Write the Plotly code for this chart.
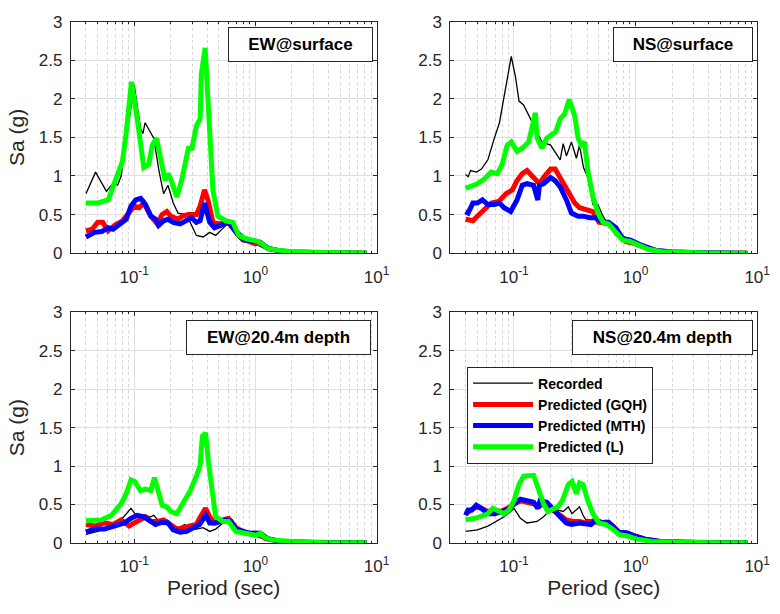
import plotly.graph_objects as go

# ---------------- EW @ surface ----------------
ew_s_rec_T = [0.04, 0.048, 0.059, 0.068, 0.073, 0.078, 0.1, 0.113, 0.118, 0.123, 0.145, 0.16, 0.175,
              0.19, 0.21, 0.23, 0.27, 0.306, 0.326, 0.37, 0.42, 0.47, 0.57, 0.63, 0.69, 0.78, 1.0,
              1.2, 1.5, 2.0, 3.0, 5.0, 8.3]
ew_s_rec_Sa = [0.77, 1.05, 0.8, 0.92, 0.88, 1.0, 2.18, 1.61, 1.55, 1.69, 1.49, 1.07, 0.77,
               0.88, 0.65, 0.52, 0.5, 0.31, 0.23, 0.21, 0.27, 0.23, 0.36, 0.4, 0.23, 0.15, 0.12,
               0.06, 0.03, 0.015, 0.008, 0.003, 0.001]

ew_s_gqh_T = [0.04, 0.045, 0.05, 0.055, 0.061, 0.069, 0.08, 0.091, 0.1, 0.11, 0.12, 0.137, 0.155,
              0.17, 0.186, 0.2, 0.23, 0.25, 0.28, 0.326, 0.35, 0.38, 0.406, 0.446, 0.5, 0.6, 0.69,
              0.83, 1.0, 1.1, 1.28, 1.6, 2.0, 3.0, 5.0, 8.3]
ew_s_gqh_Sa = [0.29, 0.31, 0.4, 0.4, 0.29, 0.36, 0.42, 0.52, 0.61, 0.59, 0.65, 0.48, 0.38,
               0.5, 0.54, 0.48, 0.44, 0.48, 0.5, 0.5, 0.61, 0.82, 0.69, 0.4, 0.38, 0.4, 0.27,
               0.17, 0.12, 0.14, 0.06, 0.03, 0.015, 0.008, 0.003, 0.001]

ew_s_mth_T = [0.04, 0.047, 0.054, 0.061, 0.067, 0.076, 0.086, 0.094, 0.103, 0.113, 0.124, 0.137,
              0.15, 0.159, 0.175, 0.19, 0.21, 0.239, 0.27, 0.297, 0.326, 0.35, 0.38, 0.42, 0.46,
              0.54, 0.6, 0.69, 0.83, 1.06, 1.28, 1.6, 2.0, 3.0, 5.0, 8.3]
ew_s_mth_Sa = [0.21, 0.27, 0.28, 0.33, 0.31, 0.38, 0.44, 0.61, 0.69, 0.71, 0.63, 0.48,
               0.44, 0.36, 0.42, 0.44, 0.4, 0.38, 0.42, 0.46, 0.4, 0.42, 0.65, 0.4, 0.33,
               0.38, 0.4, 0.28, 0.17, 0.15, 0.06, 0.03, 0.015, 0.008, 0.003, 0.001]

ew_s_l_T = [0.04, 0.05, 0.061, 0.069, 0.08, 0.086, 0.095, 0.106, 0.12, 0.132, 0.141, 0.153, 0.166,
            0.18, 0.19, 0.2, 0.225, 0.246, 0.28, 0.3, 0.326, 0.35, 0.358, 0.385, 0.42, 0.446,
            0.49, 0.57, 0.65, 0.73, 0.83, 0.94, 1.06, 1.13, 1.28, 1.5, 2.1, 3.9, 8.3]
ew_s_l_Sa = [0.65, 0.65, 0.69, 0.9, 1.19, 1.57, 2.22, 1.74, 1.11, 1.15, 1.4, 1.49, 1.19,
             0.94, 1.03, 0.96, 0.73, 0.94, 1.36, 1.36, 1.65, 1.74, 2.32, 2.66, 1.57, 0.82,
             0.48, 0.42, 0.4, 0.23, 0.19, 0.17, 0.15, 0.12, 0.06, 0.04, 0.02, 0.01, 0.002]

# ---------------- NS @ surface ----------------
ns_s_rec_T = [0.04, 0.042, 0.044, 0.049, 0.054, 0.061, 0.069, 0.076, 0.083, 0.095, 0.103, 0.11,
              0.12, 0.137, 0.155, 0.17, 0.2, 0.24, 0.254, 0.27, 0.297, 0.326, 0.346, 0.373,
              0.405, 0.446, 0.49, 0.54, 0.6, 0.69, 0.83, 1.0, 1.3, 1.7, 2.5, 4.0, 8.3]
ns_s_rec_Sa = [1.02, 0.99, 1.07, 1.05, 1.09, 1.21, 1.49, 1.69, 2.03, 2.55, 2.28, 1.97,
               1.92, 1.74, 1.57, 1.44, 1.4, 1.21, 1.42, 1.26, 1.44, 1.23, 1.4, 1.11,
               0.98, 0.63, 0.63, 0.48, 0.36, 0.23, 0.17, 0.12, 0.05, 0.02, 0.01, 0.004, 0.001]

ns_s_gqh_T = [0.04, 0.046, 0.05, 0.057, 0.065, 0.075, 0.086, 0.097, 0.106, 0.117, 0.128, 0.145,
              0.162, 0.175, 0.2, 0.218, 0.24, 0.26, 0.288, 0.316, 0.346, 0.39, 0.446, 0.5,
              0.6, 0.69, 0.83, 1.0, 1.3, 1.7, 2.5, 4.0, 8.3]
ns_s_gqh_Sa = [0.44, 0.42, 0.48, 0.56, 0.65, 0.67, 0.77, 0.82, 0.94, 1.03, 1.07, 0.98,
               0.9, 0.98, 1.09, 1.09, 0.98, 0.9, 0.77, 0.65, 0.59, 0.56, 0.54, 0.4,
               0.38, 0.3, 0.15, 0.12, 0.05, 0.02, 0.01, 0.004, 0.001]

ns_s_mth_T = [0.04, 0.042, 0.046, 0.05, 0.055, 0.061, 0.069, 0.076, 0.083, 0.094, 0.106, 0.117,
              0.128, 0.145, 0.157, 0.162, 0.175, 0.2, 0.218, 0.24, 0.27, 0.297, 0.337, 0.37,
              0.42, 0.47, 0.54, 0.6, 0.69, 0.78, 0.91, 1.13, 1.45, 2.0, 3.0, 5.0, 8.3]
ns_s_mth_Sa = [0.54, 0.52, 0.65, 0.65, 0.69, 0.63, 0.63, 0.65, 0.59, 0.54, 0.69, 0.88,
               0.9, 0.88, 0.69, 0.88, 0.9, 0.98, 0.94, 0.86, 0.69, 0.52, 0.48, 0.48,
               0.46, 0.46, 0.4, 0.4, 0.33, 0.19, 0.17, 0.1, 0.04, 0.015, 0.008, 0.003, 0.001]

ns_s_l_T = [0.04, 0.05, 0.057, 0.065, 0.073, 0.08, 0.088, 0.095, 0.106, 0.117, 0.132, 0.145,
            0.15, 0.155, 0.17, 0.186, 0.2, 0.22, 0.24, 0.26, 0.285, 0.316, 0.337, 0.357, 0.38,
            0.405, 0.446, 0.49, 0.54, 0.6, 0.69, 0.78, 0.91, 1.06, 1.28, 1.65, 2.5, 4.0, 8.3]
ns_s_l_Sa = [0.84, 0.9, 0.96, 1.05, 1.03, 1.15, 1.4, 1.44, 1.32, 1.36, 1.44, 1.78,
             1.82, 1.49, 1.36, 1.49, 1.53, 1.57, 1.74, 1.8, 1.99, 1.78, 1.49, 1.4, 1.44,
             1.07, 0.73, 0.52, 0.4, 0.38, 0.27, 0.17, 0.15, 0.1, 0.05, 0.02, 0.01, 0.004, 0.001]

# ---------------- EW @ 20.4 m depth ----------------
ew_d_rec_T = [0.04, 0.05, 0.065, 0.078, 0.094, 0.106, 0.12, 0.137, 0.145, 0.164, 0.186, 0.21,
              0.239, 0.26, 0.29, 0.326, 0.37, 0.42, 0.47, 0.54, 0.6, 0.69, 0.83, 1.0, 1.2,
              1.6, 2.5, 4.0, 8.3]
ew_d_rec_Sa = [0.11, 0.15, 0.22, 0.3, 0.45, 0.34, 0.36, 0.34, 0.36, 0.26, 0.3, 0.2,
               0.2, 0.24, 0.18, 0.18, 0.2, 0.15, 0.18, 0.26, 0.3, 0.15, 0.11, 0.09, 0.05,
               0.02, 0.01, 0.004, 0.001]

ew_d_gqh_T = [0.04, 0.047, 0.057, 0.067, 0.078, 0.091, 0.1, 0.11, 0.124, 0.137, 0.155, 0.175,
              0.198, 0.225, 0.254, 0.29, 0.326, 0.358, 0.388, 0.42, 0.46, 0.54, 0.6, 0.69,
              0.83, 1.06, 1.2, 1.6, 2.5, 4.0, 8.3]
ew_d_gqh_Sa = [0.24, 0.22, 0.26, 0.24, 0.3, 0.22, 0.26, 0.3, 0.34, 0.28, 0.28, 0.3,
               0.24, 0.18, 0.2, 0.22, 0.24, 0.36, 0.45, 0.34, 0.26, 0.3, 0.32, 0.2,
               0.13, 0.125, 0.06, 0.02, 0.01, 0.004, 0.001]

ew_d_mth_T = [0.04, 0.047, 0.057, 0.069, 0.083, 0.094, 0.106, 0.12, 0.137, 0.15, 0.17, 0.19,
              0.21, 0.239, 0.27, 0.306, 0.346, 0.388, 0.42, 0.47, 0.57, 0.63, 0.69, 0.88,
              1.1, 1.25, 1.6, 2.5, 4.0, 8.3]
ew_d_mth_Sa = [0.14, 0.18, 0.18, 0.22, 0.26, 0.32, 0.36, 0.34, 0.28, 0.24, 0.27, 0.26,
               0.17, 0.14, 0.15, 0.2, 0.24, 0.36, 0.26, 0.26, 0.3, 0.28, 0.18, 0.13,
               0.125, 0.06, 0.02, 0.01, 0.004, 0.001]

ew_d_l_T = [0.04, 0.054, 0.065, 0.078, 0.086, 0.094, 0.101, 0.113, 0.124, 0.137, 0.147, 0.159,
            0.17, 0.186, 0.2, 0.225, 0.25, 0.29, 0.326, 0.35, 0.365, 0.388, 0.41, 0.44, 0.47,
            0.54, 0.6, 0.69, 0.83, 1.0, 1.1, 1.2, 1.37, 1.75, 2.5, 4.0, 8.3]
ew_d_l_Sa = [0.29, 0.3, 0.36, 0.51, 0.64, 0.82, 0.8, 0.68, 0.7, 0.68, 0.85, 0.64,
             0.49, 0.47, 0.41, 0.38, 0.51, 0.68, 0.87, 1.01, 1.39, 1.43, 1.05, 0.68, 0.34,
             0.28, 0.28, 0.15, 0.13, 0.1, 0.125, 0.07, 0.04, 0.025, 0.01, 0.004, 0.001]

# ---------------- NS @ 20.4 m depth ----------------
ns_d_rec_T = [0.04, 0.05, 0.061, 0.071, 0.083, 0.094, 0.1, 0.113, 0.128, 0.155, 0.175, 0.2,
              0.225, 0.254, 0.28, 0.3, 0.326, 0.346, 0.37, 0.39, 0.43, 0.47, 0.57, 0.65,
              0.73, 1.0, 1.3, 1.7, 2.5, 4.0, 8.3]
ns_d_rec_Sa = [0.15, 0.17, 0.22, 0.28, 0.34, 0.41, 0.45, 0.32, 0.26, 0.28, 0.34, 0.43,
               0.43, 0.41, 0.47, 0.38, 0.43, 0.47, 0.36, 0.3, 0.3, 0.32, 0.22, 0.18,
               0.11, 0.06, 0.02, 0.01, 0.006, 0.003, 0.001]

ns_d_gqh_T = [0.04, 0.045, 0.049, 0.054, 0.061, 0.069, 0.078, 0.088, 0.1, 0.113, 0.128, 0.145,
              0.159, 0.175, 0.19, 0.21, 0.24, 0.27, 0.306, 0.346, 0.39, 0.446, 0.5, 0.57,
              0.65, 0.73, 0.85, 1.0, 1.2, 1.6, 2.5, 4.0, 8.3]
ns_d_gqh_Sa = [0.38, 0.43, 0.47, 0.45, 0.41, 0.43, 0.41, 0.45, 0.51, 0.55, 0.53, 0.51,
               0.47, 0.51, 0.47, 0.43, 0.36, 0.3, 0.28, 0.28, 0.26, 0.28, 0.26, 0.27,
               0.22, 0.14, 0.13, 0.09, 0.05, 0.02, 0.01, 0.004, 0.001]

ns_d_mth_T = [0.04, 0.042, 0.045, 0.049, 0.054, 0.061, 0.069, 0.078, 0.088, 0.1, 0.113, 0.128,
              0.145, 0.157, 0.164, 0.186, 0.21, 0.24, 0.27, 0.297, 0.346, 0.39, 0.43, 0.47,
              0.54, 0.6, 0.65, 0.73, 0.85, 0.97, 1.2, 1.6, 2.5, 4.0, 8.3]
ns_d_mth_Sa = [0.36, 0.43, 0.43, 0.49, 0.45, 0.38, 0.38, 0.41, 0.43, 0.51, 0.57, 0.55,
               0.53, 0.45, 0.55, 0.53, 0.43, 0.34, 0.26, 0.24, 0.26, 0.25, 0.24, 0.3,
               0.26, 0.27, 0.22, 0.14, 0.13, 0.09, 0.05, 0.02, 0.01, 0.004, 0.001]

ns_d_l_T = [0.04, 0.05, 0.061, 0.067, 0.076, 0.083, 0.091, 0.1, 0.11, 0.12, 0.145, 0.159,
            0.175, 0.19, 0.21, 0.23, 0.25, 0.28, 0.3, 0.326, 0.346, 0.37, 0.405, 0.446, 0.5,
            0.57, 0.65, 0.73, 0.85, 1.03, 1.37, 2.0, 3.0, 5.0, 8.3]
ns_d_l_Sa = [0.3, 0.33, 0.38, 0.45, 0.41, 0.38, 0.43, 0.55, 0.76, 0.87, 0.88, 0.68,
             0.51, 0.41, 0.45, 0.47, 0.55, 0.76, 0.8, 0.64, 0.78, 0.76, 0.55, 0.38, 0.26,
             0.24, 0.18, 0.11, 0.09, 0.05, 0.02, 0.01, 0.005, 0.002, 0.001]

panel_titles = ["EW@surface", "NS@surface", "EW@20.4m depth", "NS@20.4m depth"]
series_names = ["Recorded", "Predicted (GQH)", "Predicted (MTH)", "Predicted (L)"]
series_colors = ["#000000", "#ff0000", "#0000ff", "#00ff00"]
series_widths = [1.3, 5, 5, 5]

x_major_ticks = [0.1, 1, 10]
x_major_text = ["10<sup>-1</sup>", "10<sup>0</sup>", "10<sup>1</sup>"]
x_minor_ticks = [m * d for d in (0.01, 0.1, 1) for m in range(2, 10) if m * d >= 0.03]
y_ticks = [0, 0.5, 1, 1.5, 2, 2.5, 3]
y_text = ["0", "0.5", "1", "1.5", "2", "2.5", "3"]

panels = [
    [(ew_s_rec_T, ew_s_rec_Sa), (ew_s_gqh_T, ew_s_gqh_Sa), (ew_s_mth_T, ew_s_mth_Sa), (ew_s_l_T, ew_s_l_Sa)],
    [(ns_s_rec_T, ns_s_rec_Sa), (ns_s_gqh_T, ns_s_gqh_Sa), (ns_s_mth_T, ns_s_mth_Sa), (ns_s_l_T, ns_s_l_Sa)],
    [(ew_d_rec_T, ew_d_rec_Sa), (ew_d_gqh_T, ew_d_gqh_Sa), (ew_d_mth_T, ew_d_mth_Sa), (ew_d_l_T, ew_d_l_Sa)],
    [(ns_d_rec_T, ns_d_rec_Sa), (ns_d_gqh_T, ns_d_gqh_Sa), (ns_d_mth_T, ns_d_mth_Sa), (ns_d_l_T, ns_d_l_Sa)],
]

W, H = 780, 614
# plot-area rectangles in pixels: (left, right, top, bottom)
rects = [(72, 383, 13, 252), (458, 770, 13, 252), (72, 383, 313, 551), (458, 770, 313, 551)]
# label-box rectangles in pixels: (left, right, top, bottom)
boxes = [(233, 378, 19, 54), (625, 765, 19, 54), (191, 376, 322, 357), (583, 764, 322, 357)]

FONT = "Liberation Sans, Arial, Helvetica, sans-serif"
TXT = "#262626"

fig = go.Figure()
layout = dict(width=W, height=H, margin=dict(l=0, r=0, t=0, b=0),
              paper_bgcolor="white", plot_bgcolor="white",
              font=dict(family=FONT, color=TXT), showlegend=True)

annotations = []
for i, (rect, series) in enumerate(zip(rects, panels)):
    xa = "x" if i == 0 else f"x{i + 1}"
    ya = "y" if i == 0 else f"y{i + 1}"
    for k, (T, Sa) in enumerate(series):
        fig.add_trace(go.Scatter(
            x=T, y=Sa, mode="lines", name=series_names[k],
            line=dict(color=series_colors[k], width=series_widths[k]),
            xaxis=xa, yaxis=ya, showlegend=(i == 3), legendgroup=series_names[k]))
    l, r, t, b = rect
    row_bottom = i >= 2
    col_left = i % 2 == 0
    xkey = "xaxis" if i == 0 else f"xaxis{i + 1}"
    ykey = "yaxis" if i == 0 else f"yaxis{i + 1}"
    layout[xkey] = dict(
        domain=[l / W, r / W], anchor=ya, type="log", range=[-1.523, 1],
        tickvals=x_major_ticks, ticktext=x_major_text, ticks="inside", ticklen=4,
        tickcolor=TXT, tickfont=dict(size=17, color=TXT),
        showgrid=True, gridcolor="#e0e0e0", gridwidth=1,
        minor=dict(tickvals=x_minor_ticks, showgrid=True, gridcolor="#d4d4d4",
                   griddash="dot", gridwidth=1, ticks="inside", ticklen=2, tickcolor=TXT),
        showline=True, linecolor=TXT, linewidth=1, mirror="ticks", zeroline=False,
        ticklabelstandoff=8,
        title=dict(text="Period (sec)" if row_bottom else "", font=dict(size=21, color=TXT),
                   standoff=2),
    )
    layout[ykey] = dict(
        domain=[(H - b) / H, (H - t) / H], anchor=xa, range=[0, 3],
        tickvals=y_ticks, ticktext=y_text,
        ticks="inside", ticklen=4, tickcolor=TXT, tickfont=dict(size=17, color=TXT),
        showgrid=True, gridcolor="#e0e0e0", gridwidth=1,
        showline=True, linecolor=TXT, linewidth=1, mirror="ticks", zeroline=False,
        ticklabelstandoff=4,
        title=dict(text="Sa (g)" if col_left else "", font=dict(size=21, color=TXT), standoff=8),
    )
    bl, br, bt, bb = boxes[i]
    annotations.append(dict(
        xref="paper", yref="paper", x=(bl + br) / 2 / W, y=(H - (bt + bb) / 2) / H,
        xanchor="center", yanchor="middle", showarrow=False,
        text=f"<b>{panel_titles[i]}</b>", font=dict(size=17, color="#000000", family=FONT),
        width=br - bl - 4, height=bb - bt - 4, align="center", valign="middle",
        bgcolor="white", bordercolor="#262626", borderwidth=1, borderpad=1))

layout["annotations"] = annotations
layout["legend"] = dict(
    x=475 / W, y=(H - 369) / H, xanchor="left", yanchor="top", xref="paper", yref="paper",
    bgcolor="white", bordercolor="#262626", borderwidth=1,
    font=dict(size=14, color="#000000", family=FONT, weight="bold"),
    itemwidth=60, tracegroupgap=0, traceorder="normal")

fig.update_layout(**layout)
fig.write_html("out.html")
